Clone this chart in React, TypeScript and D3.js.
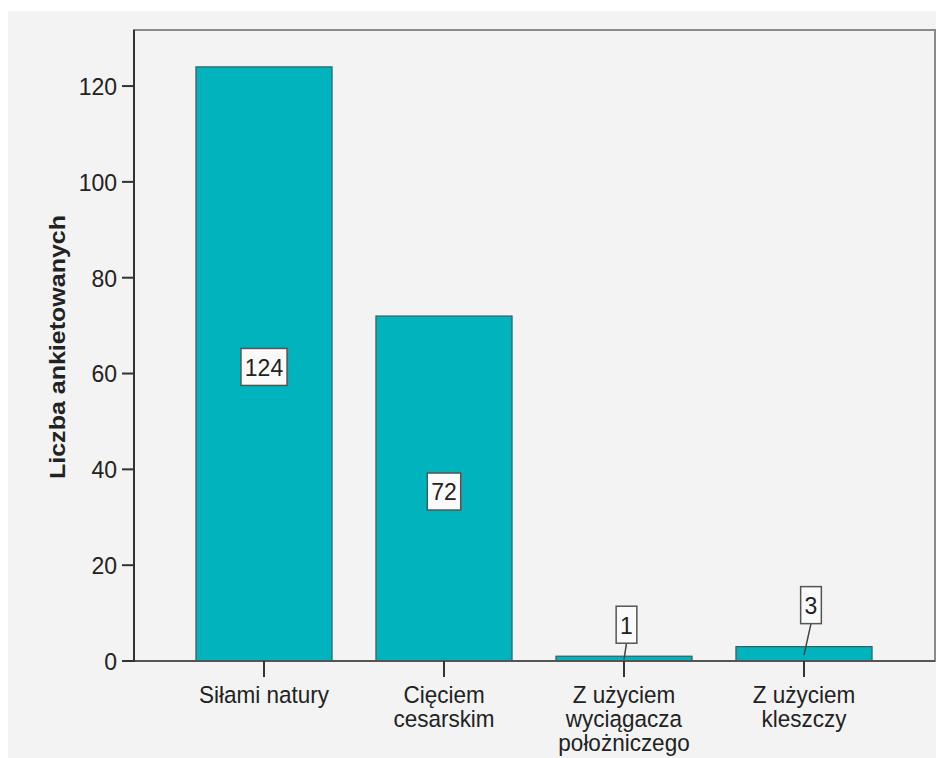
import React from "react";
import * as d3 from "d3";

// ---- data ----
const categories = ["Siłami natury", "Cięciem cesarskim", "Z użyciem wyciągacza położniczego", "Z użyciem kleszczy"];
const categoryLines = [["Siłami natury"], ["Cięciem", "cesarskim"], ["Z użyciem", "wyciągacza", "położniczego"], ["Z użyciem", "kleszczy"]];
const counts = [124, 72, 1, 3];
const yTicks = [0, 20, 40, 60, 80, 100, 120];
const yAxisTitle = "Liczba ankietowanych";

// ---- layout ----
const W = 936;
const H = 758;
const plot = { left: 134, right: 935, top: 30, bottom: 661 };
const yMax = 131.7;
const FONT = "'Liberation Sans', Arial, Helvetica, sans-serif";
const FS = 22.5;
const VS = 1.08; // vertical text stretch seen in the reference
const LINE_GAP = 24;
const BAR_FILL = "#00b3bc";
const TEXT = "#222";
// label nudges: inside labels (dy from middle), outside labels (box bottom above bar top)
const labelNudge = [
  { dx: 0, dy: 3 },
  { dx: 0, dy: 3 },
  { dx: 2.5, dy: -13 },
  { dx: 7, dy: -23 },
];

export default function App() {
  const x = d3
    .scaleBand<string>()
    .domain(categories)
    .range([174, 894])
    .paddingInner(0.244)
    .paddingOuter(0.122);
  const y = d3.scaleLinear().domain([0, yMax]).range([plot.bottom, plot.top]);
  const bw = x.bandwidth();

  return (
    <svg
      width={W}
      height={H}
      style={{ display: "block", position: "absolute", left: 0, top: 0 }}
    >
      <rect x={0} y={0} width={W} height={H} fill="#ffffff" />
      <rect x={8} y={11} width={W} height={H} fill="#f3f3f3" />
      {/* frame */}
      <rect
        x={plot.left}
        y={plot.top}
        width={plot.right - plot.left}
        height={plot.bottom - plot.top}
        fill="#f3f3f3"
        stroke="#8a8a8a"
        strokeWidth={2}
      />
      {/* bars */}
      {categories.map((c, i) => (
        <rect
          key={c}
          x={x(c)!}
          y={y(counts[i])}
          width={bw}
          height={y(0) - y(counts[i])}
          fill={BAR_FILL}
          stroke="#3c5a5c"
          strokeWidth={1.2}
        />
      ))}
      {/* axes lines */}
      <line x1={plot.left} x2={plot.right} y1={plot.bottom} y2={plot.bottom} stroke="#555" strokeWidth={2} />
      <line x1={plot.left} x2={plot.left} y1={plot.top} y2={plot.bottom + 1} stroke="#333" strokeWidth={2} />
      {/* y ticks */}
      {yTicks.map((t) => (
        <g key={t}>
          <line x1={122} x2={plot.left} y1={y(t)} y2={y(t)} stroke="#333" strokeWidth={2} />
          <g transform={`translate(117,${y(t)}) scale(1,${VS})`}>
            <text textAnchor="end" dy="0.36em" fontFamily={FONT} fontSize={FS + 0.5} fill={TEXT}>
              {t}
            </text>
          </g>
        </g>
      ))}
      {/* x ticks and labels */}
      {categories.map((c, i) => {
        const cx = x(c)! + bw / 2;
        return (
          <g key={c}>
            <line x1={cx} x2={cx} y1={plot.bottom} y2={plot.bottom + 16} stroke="#333" strokeWidth={2} />
            <g transform={`translate(${cx},703) scale(1,${VS})`}>
              <text textAnchor="middle" fontFamily={FONT} fontSize={FS} fill={TEXT}>
                {categoryLines[i].map((ln, j) => (
                  <tspan key={j} x={0} dy={j === 0 ? 0 : LINE_GAP / VS}>
                    {ln}
                  </tspan>
                ))}
              </text>
            </g>
          </g>
        );
      })}
      {/* value labels */}
      {categories.map((c, i) => {
        const v = counts[i];
        const cx = x(c)! + bw / 2;
        const s = String(v);
        const bwid = s.length * 12.7 + 8;
        const bh = 37;
        const inside = y(0) - y(v) > 60;
        const n = labelNudge[i];
        const bcx = cx + n.dx;
        const bcy = inside ? y(v / 2) + n.dy : y(v) + n.dy - bh / 2;
        return (
          <g key={c}>
            {!inside && (
              <line
                x1={bcx}
                y1={bcy + bh / 2}
                x2={cx}
                y2={(y(v) + y(0)) / 2 + 1}
                stroke="#444"
                strokeWidth={1.5}
              />
            )}
            <rect
              x={bcx - bwid / 2}
              y={bcy - bh / 2}
              width={bwid}
              height={bh}
              fill="#fafafa"
              stroke="#555"
              strokeWidth={1.5}
            />
            <g transform={`translate(${bcx},${bcy}) scale(1,${VS})`}>
              <text textAnchor="middle" dy="0.36em" fontFamily={FONT} fontSize={FS + 0.5} fill={TEXT}>
                {s}
              </text>
            </g>
          </g>
        );
      })}
      {/* y axis title */}
      <text
        transform={`translate(65,347) rotate(-90)`}
        textAnchor="middle"
        fontFamily={FONT}
        fontSize={FS}
        fontWeight="bold"
        fill={TEXT}
        textLength={264}
        lengthAdjust="spacingAndGlyphs"
      >
        {yAxisTitle}
      </text>
    </svg>
  );
}
